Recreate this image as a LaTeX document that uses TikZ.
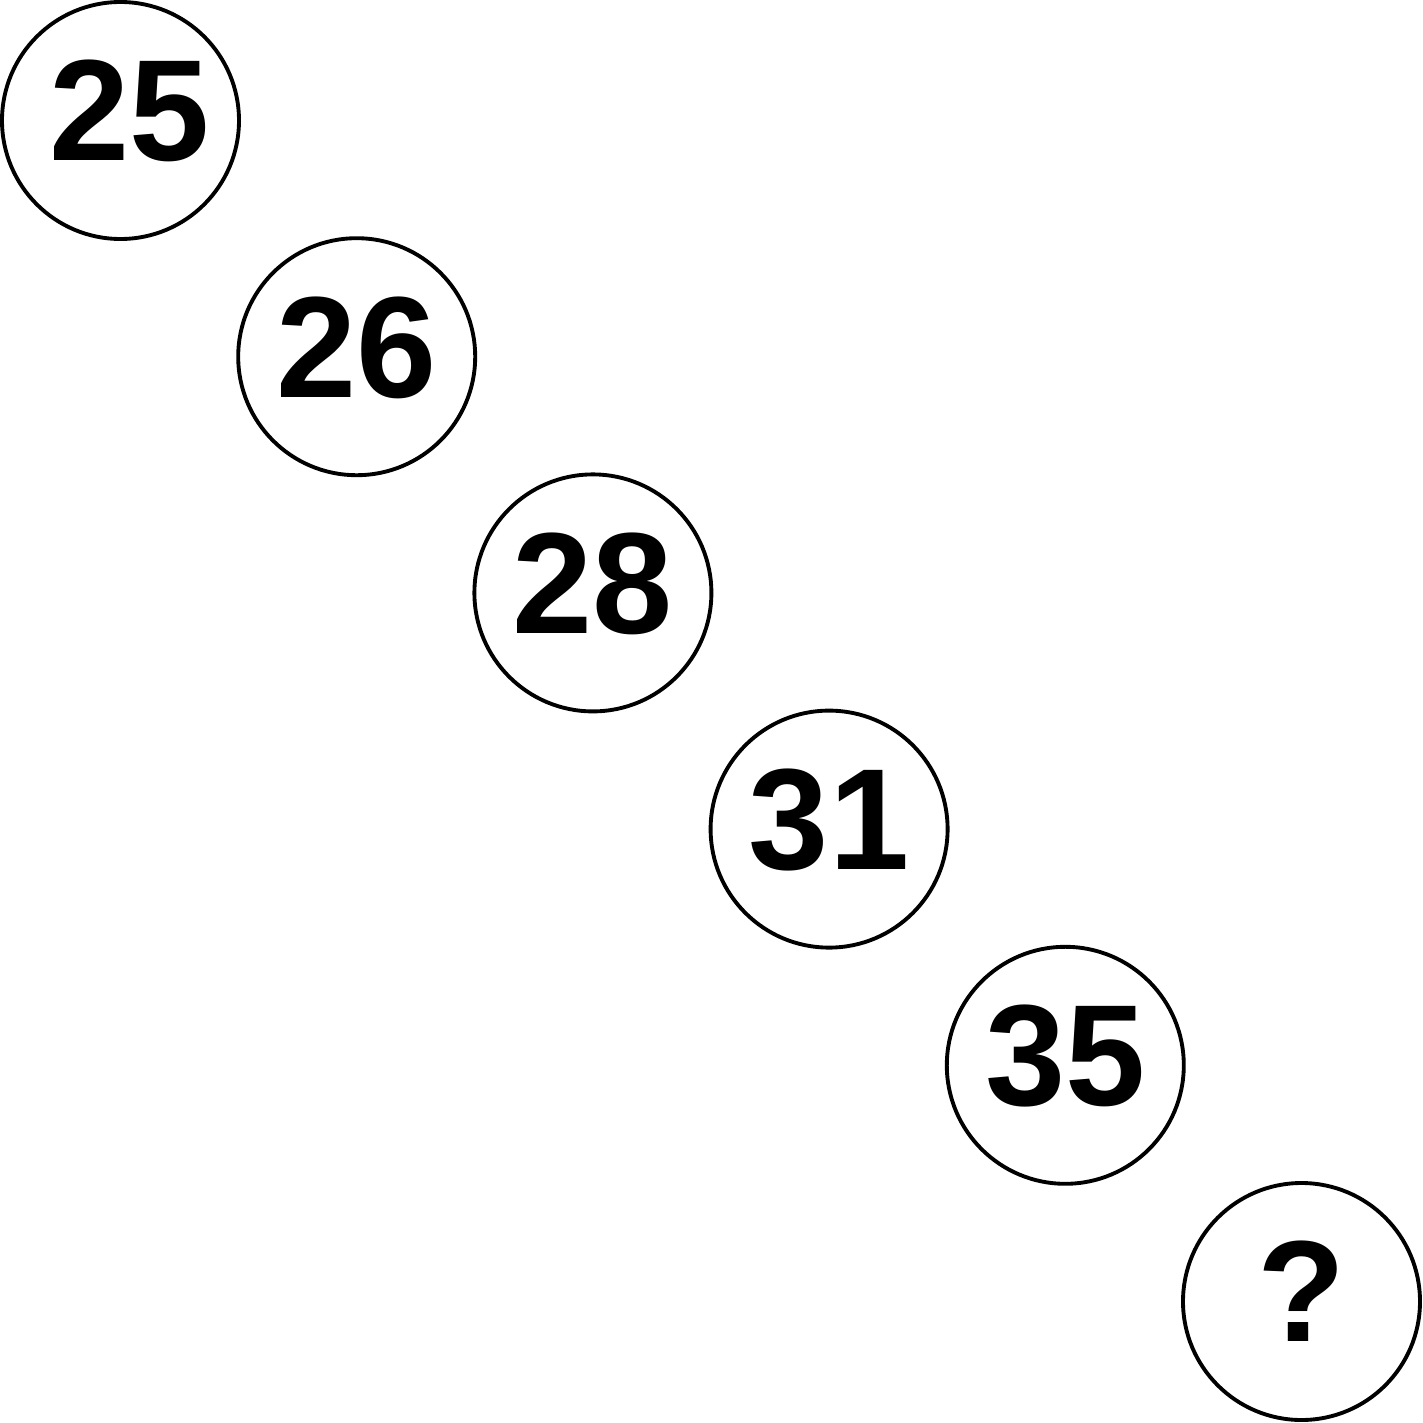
\documentclass[tikz,border=0pt]{standalone}
\usepackage{fontspec}
\setmainfont{Liberation Sans}
\usepackage{tikz}
\usepackage{tkz-berge}

\begin{document}
\begin{tikzpicture}
		\useasboundingbox (0,0) rectangle (14.23,-14.23);
		\GraphInit[vstyle=Normal]
		\tikzset{VertexStyle/.style = {draw=black,shape=circle,line width=1.1pt,minimum size=2.37cm,inner sep=0pt,text depth=0.2cm,font=\fontsize{41}{42}\selectfont\bfseries}}
		\Vertex[x=1.205,y=-1.205,L={\hspace*{0.18cm}25}]{A}
		\Vertex[x=3.567,y=-3.567,L=26]{B}
		\Vertex[x=5.929,y=-5.929,L=28]{C}
		\Vertex[x=8.291,y=-8.291,L=31]{D}
		\Vertex[x=10.653,y=-10.653,L=35]{E}
		\Vertex[x=13.015,y=-13.015,L=?]{F}
\end{tikzpicture}
\end{document}
